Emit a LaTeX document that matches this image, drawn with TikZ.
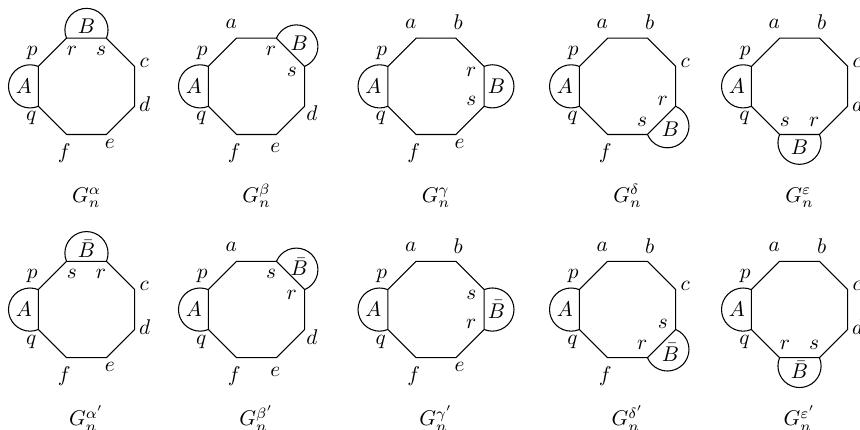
\documentclass[tikz,border=0pt]{standalone}
\usetikzlibrary{calc}

\newcommand{\octR}{0.86}   % circumradius of the octagon
\newcommand{\discR}{0.356} % radius of the half discs

% #1 name, #2 centre, #3 first vertex of the B edge, #4 label of B,
% #5 outer labels (vertex/label/offset), #6 inner labels, #7 caption
\newcommand{\octgraph}[7]{%
  \coordinate (#1-o) at #2;
  \foreach \idx in {0,...,7}
    \coordinate (#1-\idx) at ($(#1-o)+(157.5-45*\idx:\octR)$);
  \draw (#1-0) \foreach \idx in {1,...,7}{-- (#1-\idx)} -- cycle;
  \draw (#1-7) arc[start angle=-67.5, delta angle=-225, radius=\discR];
  \node (#1-A) at ($(#1-o)+(180:1.035)$) {$A$};
  \draw (#1-#3) arc[start angle=247.5-45*#3, delta angle=-225, radius=\discR];
  \node (#1-B) at ($(#1-o)+(135-45*#3:1.0)$) {$#4$};
  \foreach \vx/\lab/\off in {#5}
    \node (#1-l\vx) at ($(#1-\vx)+(\off)$) {$\lab$};
  \foreach \vx/\lab in {#6}
    \node (#1-i\vx) at ($(#1-\vx)!0.23cm!(#1-o)$) {$\lab$};
  \node[anchor=base] (#1-cap) at ($(#1-o)+(0,-1.92)$) {$#7$};
}

\begin{document}
\begin{tikzpicture}[line width=0.5pt, every node/.style={inner sep=1pt}]
  \useasboundingbox (0,0) rectangle (14.19,7.08);
  % top row
  \octgraph{al}{(1.427,5.655)}{1}{B}
    {0/p/114:0.25, 7/q/240:0.23, 6/f/-97:0.31, 5/e/-70:0.17, 4/d/12:0.17, 3/c/20:0.17}
    {1/r, 2/s}{G_n^\alpha}
  \octgraph{be}{(4.232,5.655)}{2}{B}
    {0/p/114:0.25, 7/q/240:0.23, 6/f/-97:0.31, 5/e/-95:0.23, 4/d/-45:0.17, 1/a/110:0.255}
    {2/r, 3/s}{G_n^\beta}
  \octgraph{ga}{(7.194,5.655)}{3}{B}
    {0/p/114:0.25, 7/q/240:0.23, 6/f/-97:0.31, 5/e/-70:0.17, 1/a/110:0.255, 2/b/82:0.26}
    {3/r, 4/s}{G_n^\gamma}
  \octgraph{de}{(10.354,5.655)}{4}{B}
    {0/p/114:0.25, 7/q/240:0.23, 6/f/-97:0.31, 1/a/110:0.255, 2/b/82:0.26, 3/c/20:0.17}
    {4/r, 5/s}{G_n^\delta}
  \octgraph{ep}{(13.192,5.655)}{5}{B}
    {0/p/114:0.25, 7/q/240:0.23, 1/a/110:0.255, 2/b/82:0.26, 3/c/20:0.17, 4/d/12:0.17}
    {5/r, 6/s}{G_n^\varepsilon}
  % bottom row
  \octgraph{alp}{(1.427,1.972)}{1}{\bar{B}}
    {0/p/114:0.25, 7/q/240:0.23, 6/f/-97:0.31, 5/e/-70:0.17, 4/d/12:0.17, 3/c/20:0.17}
    {1/s, 2/r}{G_n^{\alpha'}}
  \octgraph{bep}{(4.232,1.972)}{2}{\bar{B}}
    {0/p/114:0.25, 7/q/240:0.23, 6/f/-97:0.31, 5/e/-95:0.23, 4/d/-45:0.17, 1/a/110:0.255}
    {2/s, 3/r}{G_n^{\beta'}}
  \octgraph{gap}{(7.194,1.972)}{3}{\bar{B}}
    {0/p/114:0.25, 7/q/240:0.23, 6/f/-97:0.31, 5/e/-70:0.17, 1/a/110:0.255, 2/b/82:0.26}
    {3/s, 4/r}{G_n^{\gamma'}}
  \octgraph{dep}{(10.354,1.972)}{4}{\bar{B}}
    {0/p/114:0.25, 7/q/240:0.23, 6/f/-97:0.31, 1/a/110:0.255, 2/b/82:0.26, 3/c/20:0.17}
    {4/s, 5/r}{G_n^{\delta'}}
  \octgraph{epp}{(13.192,1.972)}{5}{\bar{B}}
    {0/p/114:0.25, 7/q/240:0.23, 1/a/110:0.255, 2/b/82:0.26, 3/c/20:0.17, 4/d/12:0.17}
    {5/s, 6/r}{G_n^{\varepsilon'}}
\end{tikzpicture}
\end{document}
